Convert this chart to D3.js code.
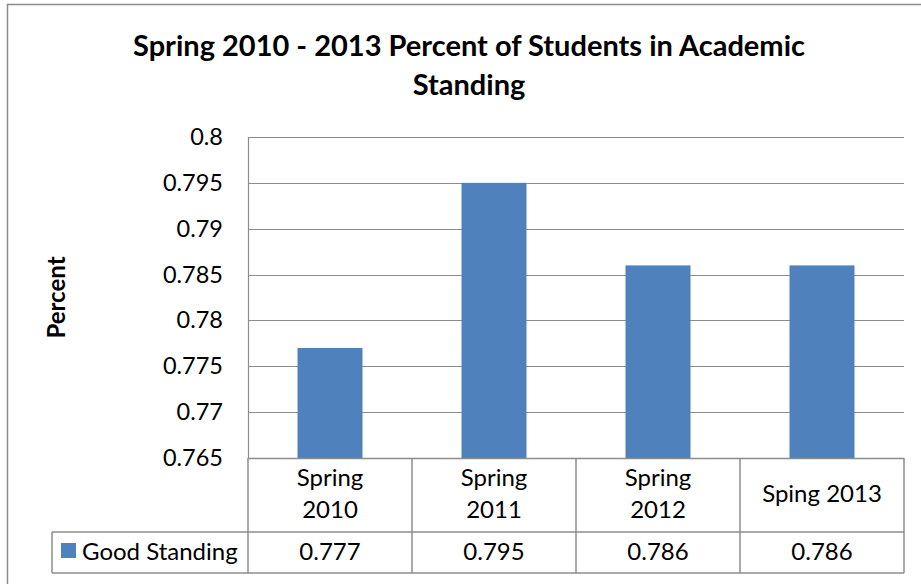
<!DOCTYPE html>
<html>
<head>
<meta charset="utf-8">
<script src="https://cdn.jsdelivr.net/npm/d3@7"></script>
<style>
  body { margin: 0; background: #fff; }
  text { font-family: Lato, "Open Sans", sans-serif; fill: #000; }
</style>
</head>
<body>
<svg id="chart" width="921" height="584"></svg>
<script>
// data
const categories = [["Spring", "2010"], ["Spring", "2011"], ["Spring", "2012"], ["Sping 2013"]]
const seriesName = "Good Standing"
const values = [0.777, 0.795, 0.786, 0.786]
const tableLabels = ["0.777", "0.795", "0.786", "0.786"]
const yTicks = [0.765, 0.77, 0.775, 0.78, 0.785, 0.79, 0.795, 0.8]
const titleLines = ["Spring 2010 - 2013 Percent of Students in Academic", "Standing"]

const svg = d3.select("#chart")
const plotLeft = 248, plotRight = 904, plotTop = 137, plotBottom = 458
const rowMid = 532, rowBottom = 573, legendLeft = 52
const gridColor = "#8c8c8c"
const barColor = "#4f81bd"

// outer frame (runs off the right and bottom edges)
svg.append("rect")
  .attr("x", 7.5).attr("y", 4.5)
  .attr("width", 930).attr("height", 600)
  .attr("fill", "none").attr("stroke", "#8c8c8c").attr("stroke-width", 1.5)

// title
svg.append("text")
  .attr("x", 469).attr("y", 56)
  .attr("text-anchor", "middle")
  .style("font-size", "29px").style("font-weight", "bold")
  .selectAll("tspan").data(titleLines).enter().append("tspan")
  .attr("x", 469).attr("dy", (d, i) => i ? 39 : 0)
  .text(d => d)

const x = d3.scaleBand().domain(d3.range(values.length)).range([plotLeft, plotRight]).paddingInner(0).paddingOuter(0)
const y = d3.scaleLinear().domain([0.765, 0.8]).range([plotBottom, plotTop])

// gridlines
svg.append("g").selectAll("line").data(yTicks).enter().append("line")
  .attr("x1", plotLeft).attr("x2", plotRight)
  .attr("y1", d => Math.round(y(d)) + 0.5).attr("y2", d => Math.round(y(d)) + 0.5)
  .attr("stroke", gridColor).attr("stroke-width", 1.2)

// y axis line
svg.append("line")
  .attr("x1", plotLeft + 0.5).attr("x2", plotLeft + 0.5).attr("y1", plotTop).attr("y2", plotBottom)
  .attr("stroke", gridColor).attr("stroke-width", 1.2)

// tick labels
svg.append("g").selectAll("text").data(yTicks).enter().append("text")
  .attr("x", 223).attr("y", d => y(d) + 8)
  .attr("text-anchor", "end")
  .style("font-size", "23.5px")
  .text(d => d3.format("")(d))

// y axis title
svg.append("text")
  .attr("transform", "translate(65," + ((plotTop + plotBottom) / 2) + ") rotate(-90)")
  .attr("text-anchor", "middle")
  .style("font-size", "24px").style("font-weight", "bold")
  .text("Percent")

// bars
const barW = 65
svg.append("g").selectAll("rect").data(values).enter().append("rect")
  .attr("x", (d, i) => x(i) + (x.bandwidth() - barW) / 2)
  .attr("width", barW)
  .attr("y", d => y(d))
  .attr("height", d => plotBottom - y(d))
  .attr("fill", barColor)

// data table
const tbl = svg.append("g").attr("stroke", gridColor).attr("stroke-width", 1.5).attr("fill", "none")
tbl.append("line").attr("x1", plotLeft).attr("x2", plotRight).attr("y1", plotBottom + 0.5).attr("y2", plotBottom + 0.5)
tbl.append("line").attr("x1", legendLeft).attr("x2", plotRight).attr("y1", rowMid).attr("y2", rowMid)
tbl.append("line").attr("x1", legendLeft).attr("x2", plotRight).attr("y1", rowBottom).attr("y2", rowBottom)
tbl.append("line").attr("x1", legendLeft).attr("x2", legendLeft).attr("y1", rowMid).attr("y2", rowBottom)
tbl.selectAll(".col").data(d3.range(values.length + 1)).enter().append("line")
  .attr("x1", i => i < values.length ? x(i) : plotRight).attr("x2", i => i < values.length ? x(i) : plotRight)
  .attr("y1", plotBottom).attr("y2", rowBottom)

// category labels
const cat = svg.append("g").selectAll("text").data(categories).enter().append("text")
  .attr("text-anchor", "middle")
  .style("font-size", "24px")
cat.each(function(d, i) {
  const cx = x(i) + x.bandwidth() / 2
  const t = d3.select(this)
  const y0 = d.length > 1 ? 486 : 502
  d.forEach((line, j) => {
    t.append("tspan").attr("x", cx).attr("y", y0 + j * 32).text(line)
  })
})

// values row
svg.append("g").selectAll("text").data(tableLabels).enter().append("text")
  .attr("x", (d, i) => x(i) + x.bandwidth() / 2).attr("y", 560)
  .attr("text-anchor", "middle")
  .style("font-size", "24px")
  .text(d => d)

// legend key
svg.append("rect").attr("x", 61).attr("y", 543).attr("width", 15).attr("height", 15).attr("fill", barColor)
svg.append("text").attr("x", 82).attr("y", 560).style("font-size", "24px").text(seriesName)
</script>
</body>
</html>
